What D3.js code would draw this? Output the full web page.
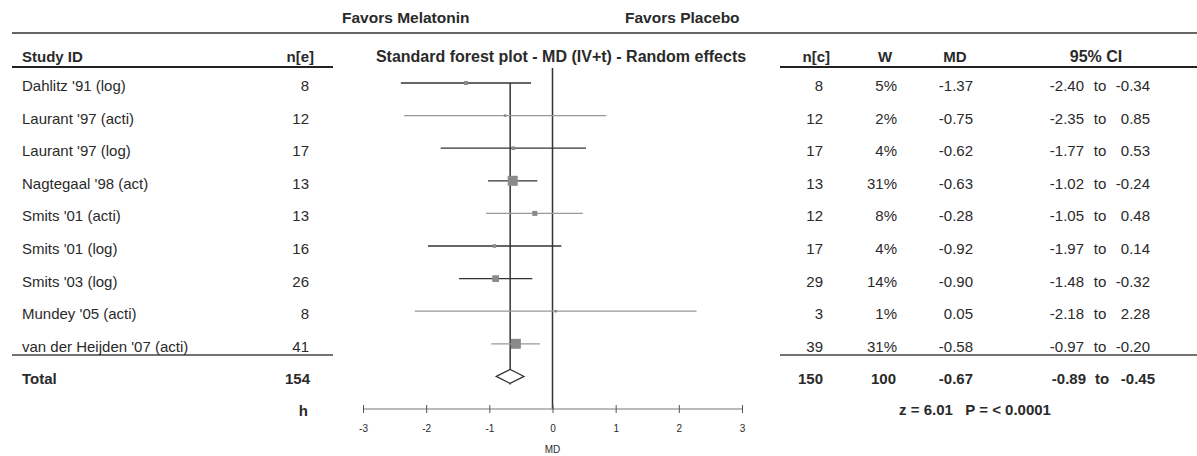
<!DOCTYPE html>
<html>
<head>
<meta charset="utf-8">
<script src="https://cdn.jsdelivr.net/npm/d3@7"></script>
<style>
  body { margin: 0; background: #fff; }
  svg { display: block; }
  text { font-family: "Liberation Sans Narrow", "Arial Narrow", "Liberation Sans", sans-serif; fill: #2a2a2a; }
</style>
</head>
<body>
<svg width="1197" height="456"></svg>
<script>
"use strict";

// data
const studies = [
  "Dahlitz '91 (log)",
  "Laurant '97 (acti)",
  "Laurant '97 (log)",
  "Nagtegaal '98 (act)",
  "Smits '01 (acti)",
  "Smits '01 (log)",
  "Smits '03 (log)",
  "Mundey '05 (acti)",
  "van der Heijden '07 (acti)",
];
const nE = [8, 12, 17, 13, 13, 16, 26, 8, 41];
const nC = [8, 12, 17, 13, 12, 17, 29, 3, 39];
const weights = [5, 2, 4, 31, 8, 4, 14, 1, 31];
const md = [-1.37, -0.75, -0.62, -0.63, -0.28, -0.92, -0.9, 0.05, -0.58];
const ciLow = [-2.4, -2.35, -1.77, -1.02, -1.05, -1.97, -1.48, -2.18, -0.97];
const ciHigh = [-0.34, 0.85, 0.53, -0.24, 0.48, 0.14, -0.32, 2.28, -0.2];

const total = { nE: 154, nC: 150, w: 100, md: -0.67, low: -0.89, high: -0.45 };
const xTicks = [-3, -2, -1, 0, 1, 2, 3];
const testLabel = "z = 6.01   P = < 0.0001";

// rows drawn with a lighter line in the picture
const lightRows = [1, 4, 7, 8];

const svg = d3.select("svg");
const fmt = (v) => v.toFixed(2);

// SCALES
const x = d3.scaleLinear().domain([-3, 3]).range([363, 742]);
const rowY = d3.scalePoint().domain(d3.range(11)).range([83, 409]); // 9 studies, total, h
const sq = d3.scaleSqrt().domain([0, 31]).range([0, 10]);

const rows = studies.map((s, i) => ({
  name: s, nE: nE[i], nC: nC[i], w: weights[i], md: md[i], low: ciLow[i], high: ciHigh[i], i,
}));

// HEADER
svg.append("text").attr("x", 342).attr("y", 23).style("font-size", "15.5px").style("font-weight", "bold")
  .text("Favors Melatonin");
svg.append("text").attr("x", 625).attr("y", 23).style("font-size", "15.5px").style("font-weight", "bold")
  .text("Favors Placebo");

svg.append("line").attr("x1", 12).attr("x2", 1197).attr("y1", 33).attr("y2", 33)
  .attr("stroke", "#666").attr("stroke-width", 2);

const headY = 62;
const head = [
  { t: "Study ID", x: 22, a: "start", s: 15 },
  { t: "n[e]", x: 314, a: "end", s: 15 },
  { t: "Standard forest plot - MD (IV+t) - Random effects", x: 561, a: "middle", s: 16 },
  { t: "n[c]", x: 830, a: "end", s: 15 },
  { t: "W", x: 885, a: "middle", s: 15 },
  { t: "MD", x: 955, a: "middle", s: 15 },
  { t: "95% CI", x: 1096, a: "middle", s: 16 },
];
svg.selectAll(".head").data(head).enter().append("text")
  .attr("class", "head")
  .attr("x", (d) => d.x).attr("y", headY)
  .attr("text-anchor", (d) => d.a)
  .style("font-size", (d) => d.s + "px").style("font-weight", "bold")
  .text((d) => d.t);

// header underlines and total separators
[[12, 333], [780, 1197]].forEach(([a, b]) => {
  svg.append("line").attr("x1", a).attr("x2", b).attr("y1", 67).attr("y2", 67)
    .attr("stroke", "#222").attr("stroke-width", 2);
  svg.append("line").attr("x1", a).attr("x2", b).attr("y1", 355).attr("y2", 355)
    .attr("stroke", "#444").attr("stroke-width", 1.5);
});

// TABLE TEXT
const cell = (sel, xPos, anchor, fn) =>
  sel.append("text").attr("x", xPos).attr("y", (d) => rowY(d.i) + 8)
    .attr("text-anchor", anchor).style("font-size", "15px").text(fn);

const g = svg.append("g");
const rowG = g.selectAll(".row").data(rows).enter().append("g").attr("class", "row");
cell(rowG, 22, "start", (d) => d.name);
cell(rowG, 309, "end", (d) => d.nE);
cell(rowG, 823, "end", (d) => d.nC);
cell(rowG, 897, "end", (d) => d.w + "%");
cell(rowG, 973, "end", (d) => fmt(d.md));
cell(rowG, 1084, "end", (d) => fmt(d.low));
cell(rowG, 1100, "middle", () => "to");
cell(rowG, 1150, "end", (d) => fmt(d.high));

// total row
const totRow = [{ ...total, i: 9 }];
const totG = g.selectAll(".tot").data(totRow).enter().append("g").attr("class", "tot");
cell(totG, 22, "start", () => "Total");
cell(totG, 310, "end", (d) => d.nE);
cell(totG, 823, "end", (d) => d.nC);
cell(totG, 896, "end", (d) => d.w);
cell(totG, 973, "end", (d) => fmt(d.md));
cell(totG, 1086, "end", (d) => fmt(d.low));
cell(totG, 1102, "middle", () => "to");
cell(totG, 1155, "end", (d) => fmt(d.high));
totG.selectAll("text").style("font-weight", "bold");

svg.append("text").attr("x", 308).attr("y", rowY(10) + 7).attr("text-anchor", "end")
  .style("font-size", "15px").style("font-weight", "bold").text("h");
svg.append("text").attr("x", 975).attr("y", rowY(10) + 6).attr("text-anchor", "middle")
  .style("font-size", "15px").style("font-weight", "bold")
  .attr("xml:space", "preserve").text(testLabel);

// PLOT
const plot = svg.append("g");

// no-effect line and pooled line
plot.append("line").attr("x1", x(0)).attr("x2", x(0)).attr("y1", 68).attr("y2", rowY(10))
  .attr("stroke", "#333").attr("stroke-width", 1.5);
plot.append("line").attr("x1", x(total.md)).attr("x2", x(total.md))
  .attr("y1", rowY(0)).attr("y2", rowY(9) + 8)
  .attr("stroke", "#333").attr("stroke-width", 1.5);

plot.selectAll(".ci").data(rows).enter().append("line")
  .attr("class", "ci")
  .attr("x1", (d) => x(d.low)).attr("x2", (d) => x(d.high))
  .attr("y1", (d) => rowY(d.i)).attr("y2", (d) => rowY(d.i))
  .attr("stroke", (d) => (lightRows.includes(d.i) ? "#999" : "#333"))
  .attr("stroke-width", 1.3);

plot.selectAll(".box").data(rows).enter().append("rect")
  .attr("class", "box")
  .attr("x", (d) => x(d.md) - Math.max(sq(d.w), 2.5) / 2)
  .attr("y", (d) => rowY(d.i) - Math.max(sq(d.w), 2.5) / 2)
  .attr("width", (d) => Math.max(sq(d.w), 2.5))
  .attr("height", (d) => Math.max(sq(d.w), 2.5))
  .attr("fill", "#8a8a8a");

// pooled diamond
const dy = rowY(9);
plot.append("path")
  .attr("d", `M${x(total.low)},${dy} L${x(total.md)},${dy - 7} L${x(total.high)},${dy} L${x(total.md)},${dy + 7} Z`)
  .attr("fill", "#fff").attr("stroke", "#333").attr("stroke-width", 1.2);

// AXIS
const xAxis = d3.axisBottom(x).tickValues(xTicks).tickSize(4).tickPadding(12).tickFormat(d3.format("d"));
const axG = plot.append("g").attr("transform", `translate(0,${rowY(10)})`).call(xAxis);
axG.select(".domain").attr("stroke", "#777").attr("d", `M${x(-3)},0H${x(3)}`);
axG.selectAll(".tick line").attr("y1", -4).attr("y2", 4).attr("stroke", "#555");
axG.selectAll(".tick text")
  .style("font-family", "'Liberation Sans', sans-serif")
  .style("font-size", "10px").attr("fill", "#666")
  .text((d) => String(d).replace("\u2212", "-"));

plot.append("text").attr("x", x(0)).attr("y", 453).attr("text-anchor", "middle")
  .style("font-family", "'Liberation Sans', sans-serif").style("font-size", "10px")
  .attr("fill", "#666").text("MD");
</script>
</body>
</html>
